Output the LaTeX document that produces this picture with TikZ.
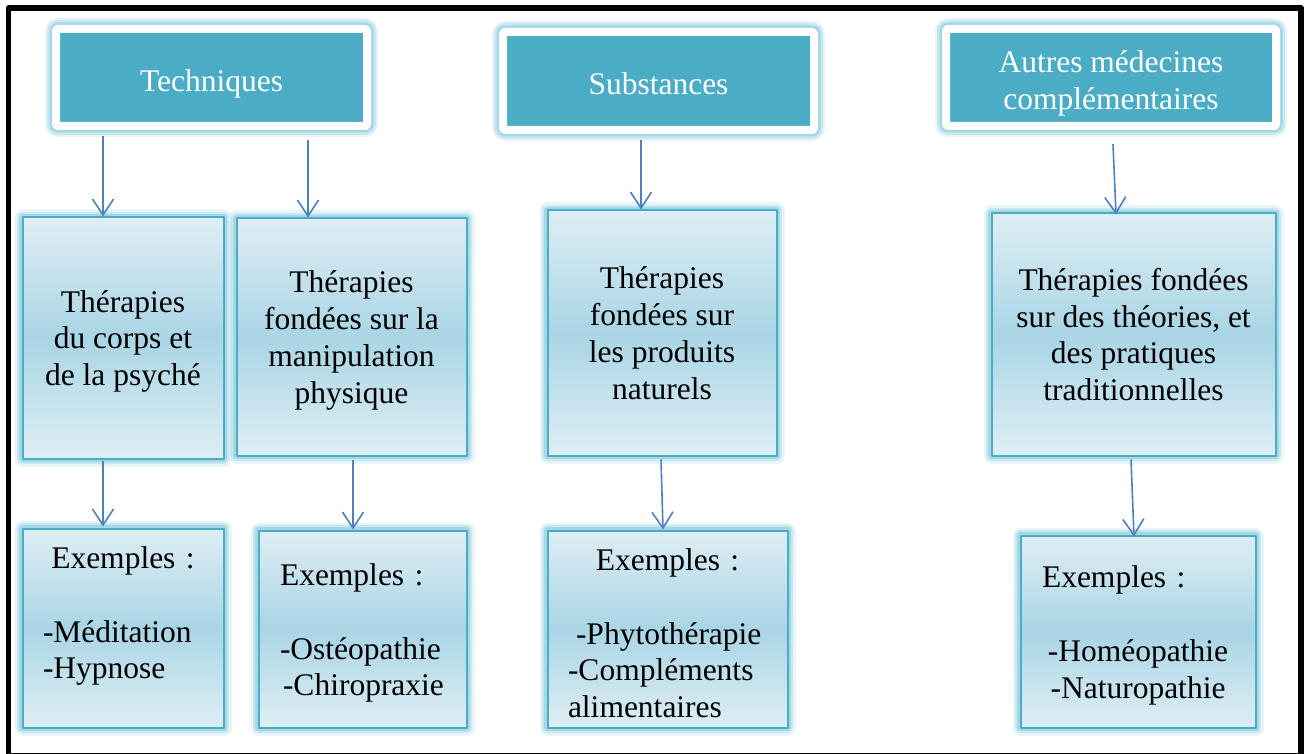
\documentclass[tikz,border=0pt]{standalone}
\usepackage{fontspec}
\setmainfont{Liberation Serif}
\usetikzlibrary{arrows.meta}
\definecolor{tealbox}{HTML}{4BACC6}
\definecolor{glowc}{HTML}{8FCFE0}
\definecolor{boxtop}{HTML}{DEEEF4}
\definecolor{boxmid}{HTML}{A9D5E5}
\definecolor{arrowc}{HTML}{4F81BD}
\begin{document}
\begin{tikzpicture}[x=1pt,y=-1pt,line join=round,font=\fontsize{31.5}{36.8}\selectfont,
	headbox/.style={draw=white,line width=8pt,fill=tealbox,rounded corners=2pt,text=white,align=center,
		preaction={draw=glowc,line width=22pt,opacity=.2},
		preaction={draw=glowc,line width=18pt,opacity=.35},
		preaction={draw=glowc,line width=13pt,opacity=.6}},
	therbox/.style={draw=tealbox,line width=2pt,top color=boxtop,bottom color=boxtop,middle color=boxmid,align=center,
		preaction={draw=glowc,line width=16pt,opacity=.2},
		preaction={draw=glowc,line width=11pt,opacity=.35},
		preaction={draw=glowc,line width=7pt,opacity=.6}},
	arr/.style={draw=arrowc,line width=1.6pt,-{Straight Barb[length=16pt,width=21pt]}}]
	\useasboundingbox (0,0) rectangle (1304,754);
	\fill[white] (0,0) rectangle (1304,754);
	\draw[line width=5.5pt] (8.5,8) rectangle (1301,755.5);
	
	\node[headbox,minimum width=311pt,minimum height=97pt,text height=35.5pt] (tech) at (211.5,77.5) {Techniques};
	\node[headbox,minimum width=311pt,minimum height=98pt,text height=27.5pt] (subst) at (658.5,81) {Substances};
	\node[headbox,minimum width=330pt,minimum height=97pt,text height=64pt,text depth=0pt] (autres) at (1111,77.5) {Autres médecines\\complémentaires};
	
	\node[therbox,minimum width=201pt,minimum height=241pt,text depth=0pt] (corps) at (123,338) {Thérapies\\du corps et\\de la psyché};
	\node[therbox,minimum width=230pt,minimum height=237pt,text depth=0pt] (manip) at (351.5,337) {Thérapies\\fondées sur la\\manipulation\\physique};
	\node[therbox,minimum width=229pt,minimum height=245pt,text depth=0pt] (natur) at (662,333) {Thérapies\\fondées sur\\les produits\\naturels};
	\node[therbox,minimum width=284pt,minimum height=242pt] (tradi) at (1133.5,334.5) {Thérapies fondées\\sur des théories, et\\des pratiques\\traditionnelles};
	
	\node[therbox,minimum width=201pt,minimum height=199pt,text width=160pt,align=left,text depth=141pt] (excorps) at (123,628)
		{\makebox[\linewidth]{Exemples :}\\[36.8pt]-Méditation\\-Hypnose};
	\node[therbox,minimum width=208pt,minimum height=197pt,text width=165pt,align=left,text depth=109pt] (exmanip) at (362.5,629)
		{Exemples :\\[36.8pt]-Ostéopathie\\\hspace*{3pt}-Chiropraxie};
	\node[therbox,minimum width=240pt,minimum height=197pt,text width=199pt,align=left,text depth=139pt] (exnatur) at (667.5,629)
		{\makebox[\linewidth]{Exemples :}\\[36.8pt]\hspace*{8pt}-Phytothérapie\\-Compléments\\alimentaires};
	\node[therbox,minimum width=235pt,minimum height=192pt,text width=192pt,align=center,text depth=109pt] (extradi) at (1138,631.5)
		{\makebox[\linewidth][l]{Exemples :}\\[36.8pt]-Homéopathie\\-Naturopathie};
	
	\draw[arr] ([xshift=-108.5pt,yshift=-6pt]tech.south) -- ([xshift=-20pt]corps.north);
	\draw[arr] ([xshift=96.5pt,yshift=-10pt]tech.south) -- ([xshift=-43.5pt]manip.north);
	\draw[arr] ([xshift=-17.5pt,yshift=-6pt]subst.south) -- ([xshift=-21pt]natur.north);
	\draw[arr] ([xshift=2pt,yshift=-14pt]autres.south) -- ([xshift=-17.5pt,yshift=-2pt]tradi.north);
	\draw[arr] ([xshift=-20pt,yshift=-1pt]corps.south) -- ([xshift=-20pt,yshift=1pt]excorps.north);
	\draw[arr] ([xshift=1.5pt,yshift=-3pt]manip.south) -- ([xshift=-9.5pt]exmanip.north);
	\draw[arr] ([xshift=-1pt,yshift=-3pt]natur.south) -- ([xshift=-4.5pt]exnatur.north);
	\draw[arr] ([xshift=-2.5pt,yshift=-3pt]tradi.south) -- ([xshift=-4pt,yshift=-2pt]extradi.north);
\end{tikzpicture}
\end{document}
